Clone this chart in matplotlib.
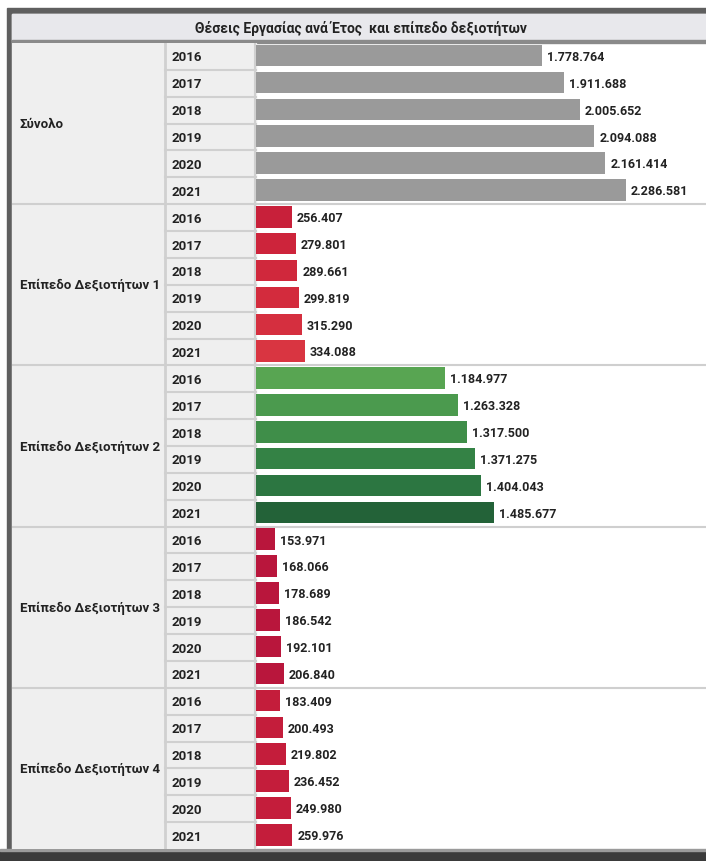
import matplotlib
matplotlib.use("Agg")
import matplotlib.pyplot as plt
from matplotlib.patches import Rectangle

title = "Θέσεις Εργασίας ανά Έτος  και επίπεδο δεξιοτήτων"
groups = ["Σύνολο", "Επίπεδο Δεξιοτήτων 1", "Επίπεδο Δεξιοτήτων 2",
          "Επίπεδο Δεξιοτήτων 3", "Επίπεδο Δεξιοτήτων 4"]
years = ["2016", "2017", "2018", "2019", "2020", "2021"]
total = [1778764, 1911688, 2005652, 2094088, 2161414, 2286581]
skill1 = [256407, 279801, 289661, 299819, 315290, 334088]
skill2 = [1184977, 1263328, 1317500, 1371275, 1404043, 1485677]
skill3 = [153971, 168066, 178689, 186542, 192101, 206840]
skill4 = [183409, 200493, 219802, 236452, 249980, 259976]
series = [total, skill1, skill2, skill3, skill4]

colors = [
    ["#9a9a9a"] * 6,
    ["#c8203a", "#cd243b", "#d0283c", "#d32b3d", "#d52f3f", "#d93541"],
    ["#58a552", "#4b9a4e", "#3f8e49", "#348245", "#2c7641", "#236238"],
    ["#b9163c"] * 6,
    ["#c41d3b"] * 6,
]

plt.rcParams["font.family"] = ["Roboto", "DejaVu Sans"]

W, H = 706, 862
fig = plt.figure(figsize=(W / 100, H / 100), dpi=100)
fig.patch.set_facecolor("white")

# frame axes in pixel coordinates
frame = fig.add_axes([0, 0, 1, 1])
frame.set_xlim(0, W)
frame.set_ylim(H, 0)
frame.axis("off")
frame.add_patch(Rectangle((7, 9), W, H, color="#5f5f5f", zorder=0))
frame.add_patch(Rectangle((12, 15), W, 836, color="white", zorder=1))
frame.add_patch(Rectangle((12, 15), W, 26, color="#e8e8ec", zorder=2))
frame.add_patch(Rectangle((12, 41), W, 3, color="#8a8a8a", zorder=2))
frame.add_patch(Rectangle((0, 852), W, 10, color="#3a3a3a", zorder=2))
frame.add_patch(Rectangle((0, 850), W, 2, color="#9a9a9a", zorder=2))
frame.text(361, 29, title, ha="center", va="center", fontsize=10,
           fontweight="bold", color="#222222", zorder=3)

n = len(groups) * len(years)
top_px, bot_px = 44, 850
x0, x1 = 12, W
tab = fig.add_axes([x0 / W, 1 - bot_px / H, (x1 - x0) / W, (bot_px - top_px) / H])
tab.set_xlim(x0, x1)
tab.set_ylim(n, 0)
tab.axis("off")

bar_left = 256
px_per_m = 164.6
x_start = 38300
bars_ax = fig.add_axes([bar_left / W, 1 - bot_px / H, (x1 - bar_left) / W,
                        (bot_px - top_px) / H])
bars_ax.set_ylim(n, 0)
bars_ax.set_xlim(x_start, x_start + (x1 - bar_left) / px_per_m * 1e6)
bars_ax.axis("off")
bars_ax.patch.set_alpha(0)

# table backgrounds
tab.add_patch(Rectangle((x0, 0), 165 - x0, n, color="#efefef", zorder=1))
tab.add_patch(Rectangle((165, 0), 91, n, color="#efefef", zorder=1))
tab.plot([165, 165], [0, n], color="#d0d0d0", lw=2, zorder=2)
tab.plot([255, 255], [0, n], color="#d0d0d0", lw=1.5, zorder=2)

pad = 5 / px_per_m * 1e6
row = 0
for gi, (g, vals) in enumerate(zip(groups, series)):
    g_start = row
    tab.text(20, g_start + 3, g, ha="left", va="center", fontsize=9.5,
             fontweight="bold", color="#222222", zorder=3)
    for yi, (yr, v) in enumerate(zip(years, vals)):
        r = row + yi
        tab.text(172, r + 0.52, yr, ha="left", va="center", fontsize=9.5,
                 fontweight="bold", color="#222222", zorder=3)
        if yi > 0:
            tab.plot([165, 256], [r, r], color="#d0d0d0", lw=1.5, zorder=2)
        bars_ax.barh(r + 0.47, v, height=0.8, color=colors[gi][yi],
                     edgecolor="none", zorder=3)
        bars_ax.text(v + pad, r + 0.5, f"{v:,}".replace(",", "."), ha="left",
                     va="center", fontsize=9, fontweight="bold",
                     color="#222222", zorder=4)
    row += len(years)
    if gi < len(groups) - 1:
        tab.plot([x0, x1], [row, row], color="#cfcfcf", lw=1.5, zorder=2)

fig.savefig("out.png", dpi=100, facecolor="white")
